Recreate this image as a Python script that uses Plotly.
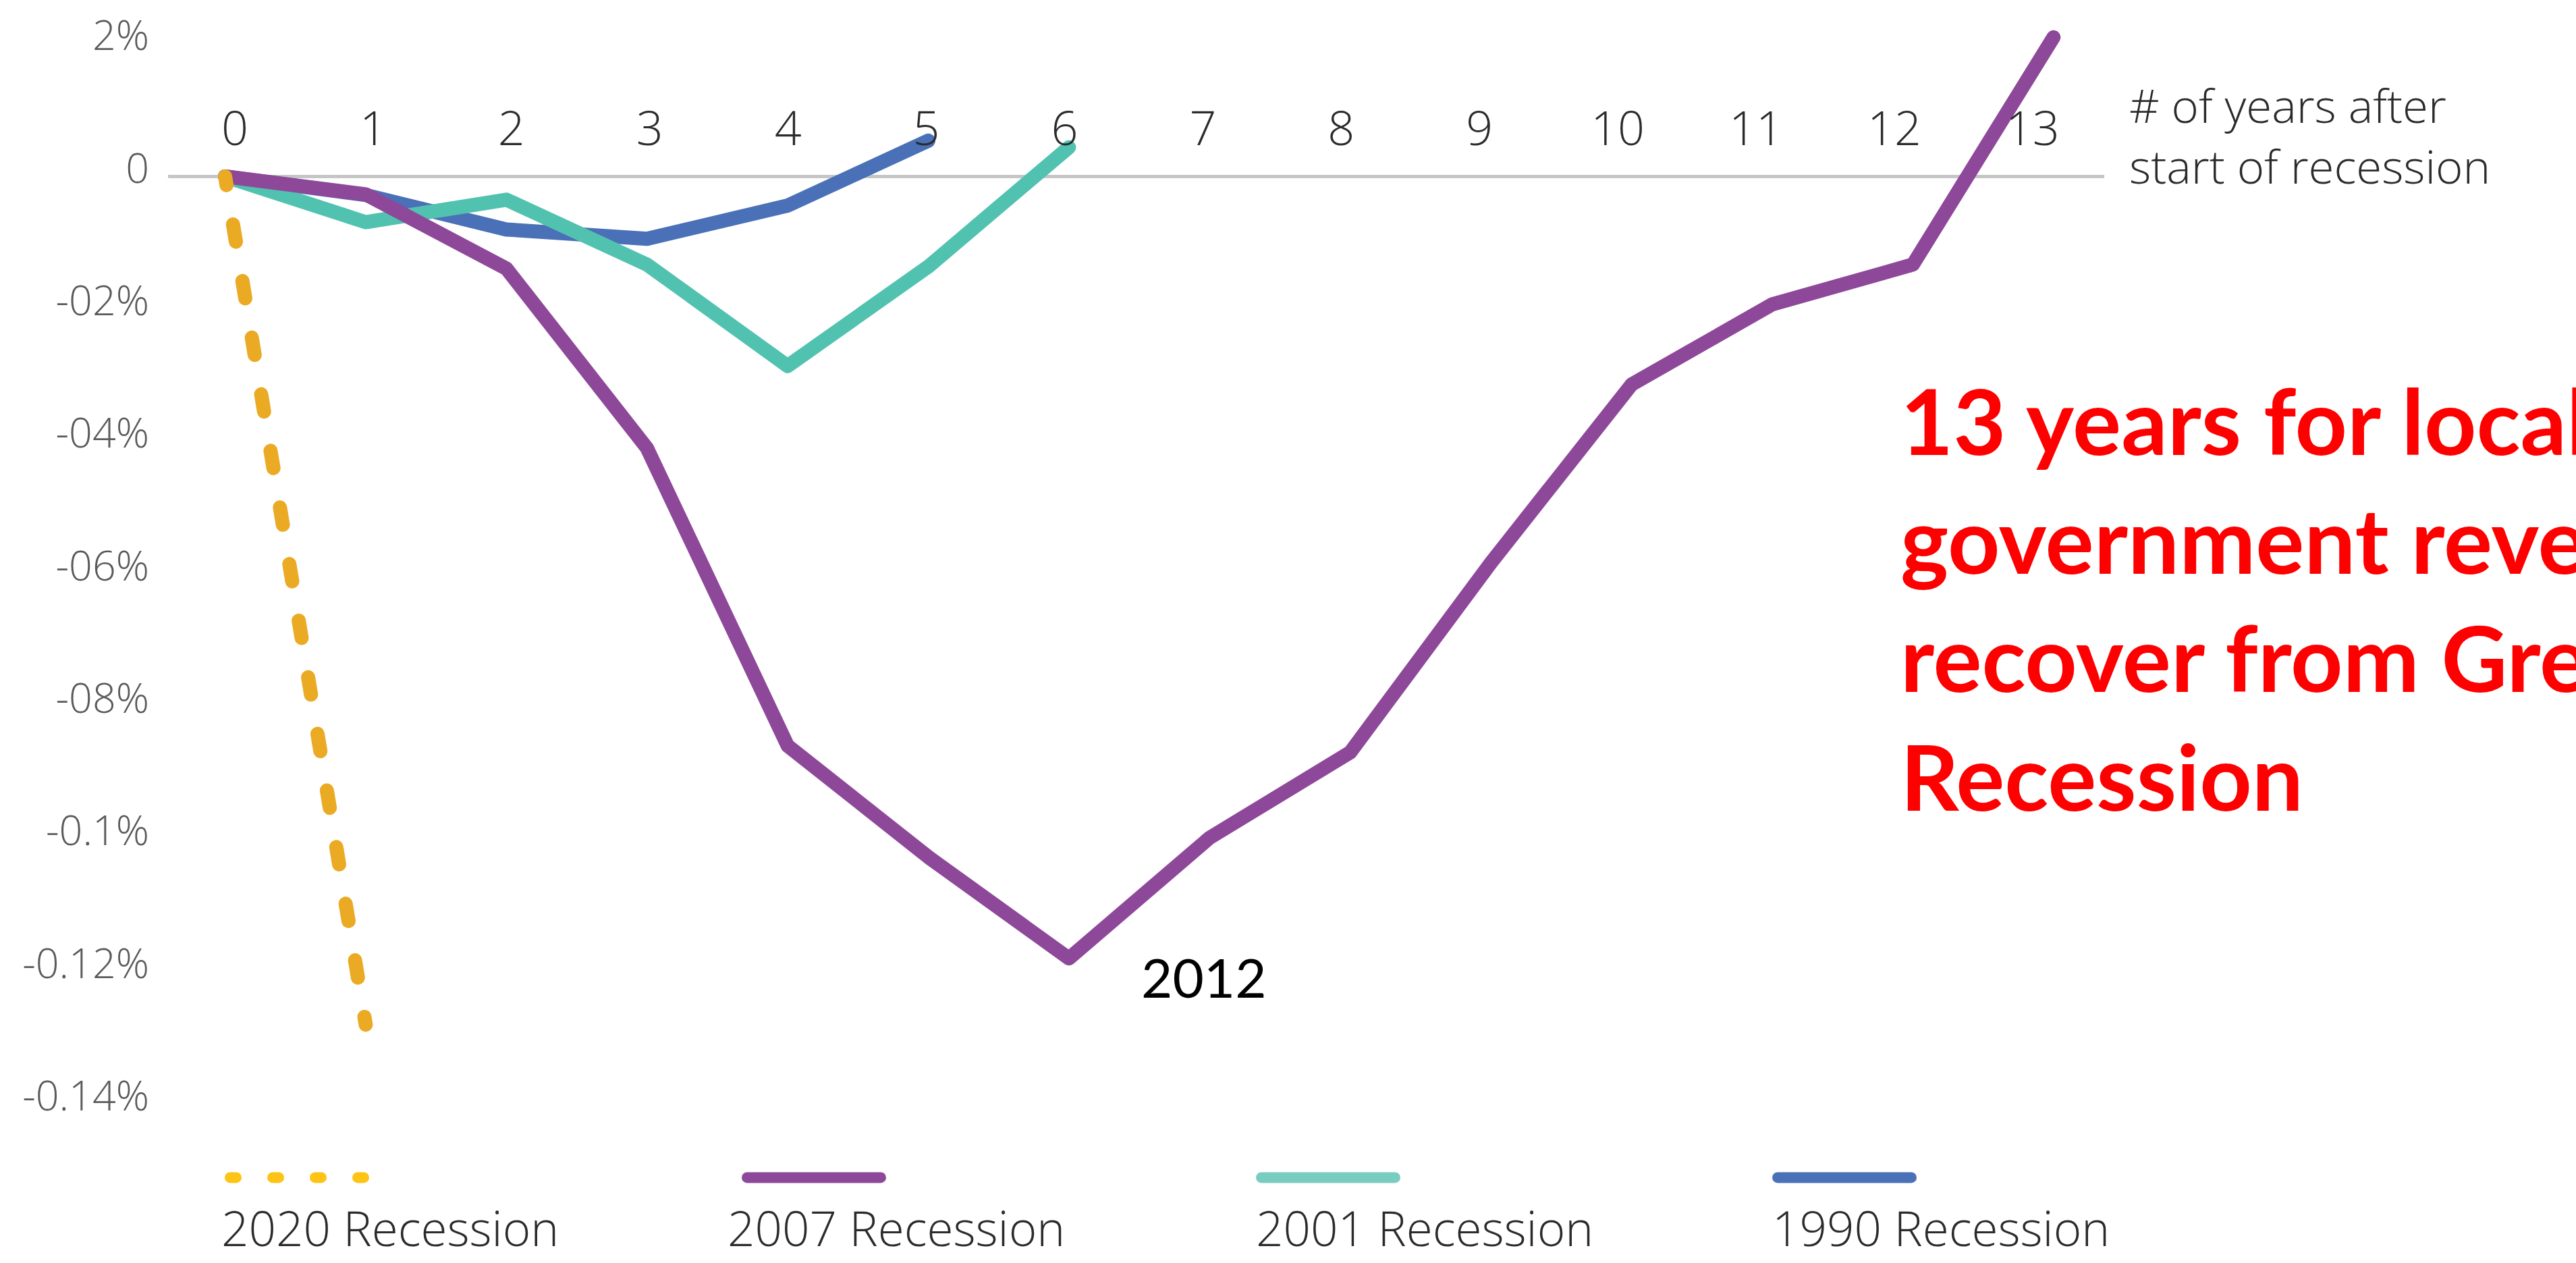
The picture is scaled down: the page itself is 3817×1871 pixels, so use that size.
import plotly.graph_objects as go

# ---------------- data ----------------
YEARS = list(range(14))
X_TICK_LABELS = [str(i) for i in YEARS]

R2020_X = [0, 1]
R2020 = [0.0, -0.128]

R2007_X = list(range(14))
R2007 = [0.0, -0.0027, -0.0139, -0.0410, -0.0859, -0.1027, -0.1180,
         -0.0998, -0.0869, -0.0583, -0.0314, -0.0193, -0.0133, 0.0210]

R2001_X = list(range(7))
R2001 = [0.0, -0.0069, -0.0035, -0.0133, -0.0286, -0.0136, 0.0044]

R1990_X = list(range(6))
R1990 = [0.0, -0.0028, -0.0080, -0.0094, -0.0044, 0.0054]

Y_TICKVALS = [0.02, 0.0, -0.02, -0.04, -0.06, -0.08, -0.10, -0.12, -0.14]
Y_TICKTEXT = ["2%", "0", "-02%", "-04%", "-06%", "-08%", "-0.1%", "-0.12%", "-0.14%"]

SERIES_NAMES = ["2020 Recession", "2007 Recession", "2001 Recession", "1990 Recession"]

# ---------------- style ----------------
W, H = 3817, 1871
def px(x):
    return x / W
def py(y):
    return 1 - y / H

C_2020 = "#EBAA24"
C_2007 = "#8E4899"
C_2001 = "#52C2B0"
C_1990 = "#4A71B7"
LEG_2020 = "#FDC315"
LEG_2001 = "#78CDC0"

FONT = "Open Sans"
LW = 21

fig = go.Figure()

fig.add_trace(go.Scatter(x=R1990_X, y=R1990, mode="lines", name=SERIES_NAMES[3],
                         line=dict(color=C_1990, width=LW), hoverinfo="skip"))
fig.add_trace(go.Scatter(x=R2001_X, y=R2001, mode="lines", name=SERIES_NAMES[2],
                         line=dict(color=C_2001, width=LW), hoverinfo="skip"))
fig.add_trace(go.Scatter(x=R2007_X, y=R2007, mode="lines", name=SERIES_NAMES[1],
                         line=dict(color=C_2007, width=LW), hoverinfo="skip"))
fig.add_trace(go.Scatter(x=R2020_X, y=R2020, mode="lines", name=SERIES_NAMES[0],
                         line=dict(color=C_2020, width=LW, dash="13px,59px,13px,0px"),
                         hoverinfo="skip"))
# carrier trace for the top tick-label axis
fig.add_trace(go.Scatter(x=YEARS, y=[None] * len(YEARS), xaxis="x2", yaxis="y",
                         mode="lines", showlegend=False, hoverinfo="skip"))

x_dom = [px(249), px(3118)]
fig.update_layout(
    width=W, height=H,
    margin=dict(l=0, r=0, t=0, b=0),
    paper_bgcolor="white", plot_bgcolor="white",
    showlegend=False,
    xaxis=dict(domain=x_dom, range=[-0.4055, 13.361], showticklabels=False,
               showgrid=False, zeroline=False, showline=False, fixedrange=True),
    xaxis2=dict(overlaying="x", anchor="free", position=py(224), side="top",
                range=[-0.483, 13.518], tickmode="array", tickvals=YEARS,
                ticktext=X_TICK_LABELS, showgrid=False, zeroline=False, showline=False,
                ticks="", tickfont=dict(family=FONT, size=70, color="#2b2b2b", weight=300)),
    yaxis=dict(domain=[py(1832), py(10)], range=[-0.16, 0.025], tickmode="array",
               tickvals=Y_TICKVALS, ticktext=Y_TICKTEXT, showgrid=False,
               zeroline=True, zerolinecolor="#c6c6c6", zerolinewidth=5,
               showline=False, ticks="", ticklabelstandoff=27, ticklabelshift=-12,
               tickfont=dict(family=FONT, size=61, color="#5a5a5a", weight=300)),
)

# legend swatches (manual, label below line)
LEG_Y = 1744
shapes = [
    dict(type="line", xref="paper", yref="paper", x0=px(341), x1=px(541),
         y0=py(LEG_Y), y1=py(LEG_Y), line=dict(color=LEG_2020, width=16, dash="9px,54px")),
    dict(type="line", xref="paper", yref="paper", x0=px(1107), x1=px(1305),
         y0=py(LEG_Y), y1=py(LEG_Y), line=dict(color=C_2007, width=16)),
    dict(type="line", xref="paper", yref="paper", x0=px(1869), x1=px(2067),
         y0=py(LEG_Y), y1=py(LEG_Y), line=dict(color=LEG_2001, width=16)),
    dict(type="line", xref="paper", yref="paper", x0=px(2634), x1=px(2832),
         y0=py(LEG_Y), y1=py(LEG_Y), line=dict(color=C_1990, width=16)),
]
fig.update_layout(shapes=shapes)

LEG_X = [326, 1076, 1859, 2624]
annos = []
for name, lx in zip(SERIES_NAMES, LEG_X):
    annos.append(dict(xref="paper", yref="paper", x=px(lx), y=py(1818), text=name,
                      showarrow=False, xanchor="left", yanchor="middle",
                      font=dict(family=FONT, size=71, color="#2b2b2b", weight=300)))

annos.append(dict(xref="paper", yref="paper", x=px(3153), y=py(195),
                  text="# of years after<br>start of recession", showarrow=False,
                  xanchor="left", yanchor="middle", align="left",
                  font=dict(family=FONT, size=69, color="#2b2b2b", weight=300)))

annos.append(dict(xref="paper", yref="paper", x=px(1784), y=py(1446), text="2012",
                  showarrow=False, xanchor="center", yanchor="middle",
                  font=dict(family="Lato", size=80, color="black")))

annos.append(dict(xref="paper", yref="paper", x=px(2814), y=py(882),
                  text="13 years for local<br>government revenue to<br>recover from Great<br>Recession",
                  showarrow=False, xanchor="left", yanchor="middle", align="left",
                  font=dict(family="Lato", size=135, color="#FF0000", weight=700)))
fig.update_layout(annotations=annos)

post = """
document.documentElement.style.margin='0';
document.documentElement.style.padding='0';
document.documentElement.style.overflow='hidden';
document.body.style.margin='0';
document.body.style.padding='0';
document.body.style.overflow='hidden';
var gd = document.getElementById('{plot_id}');
function rc(){
  gd.querySelectorAll('.js-line, .shapelayer path').forEach(function(p){
    p.style.strokeLinecap='round'; p.style.strokeLinejoin='round';
  });
}
rc();
gd.on && gd.on('plotly_afterplot', rc);
"""
fig.write_html("out.html", post_script=post, config={"displayModeBar": False})
